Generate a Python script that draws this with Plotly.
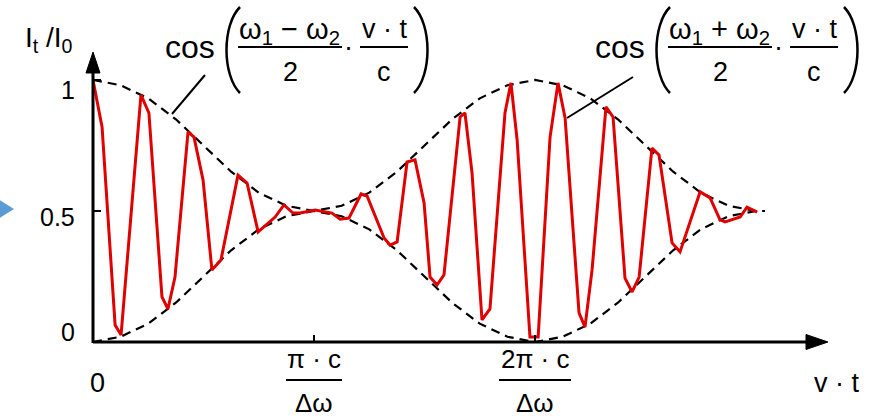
import plotly.graph_objects as go

# ---------------- data ----------------
# x in units of pi*c/Δω, y = I_t / I_0
wave_x = [0.000, 0.041, 0.100, 0.127, 0.217, 0.253, 0.312, 0.339, 0.371, 0.430,
          0.457, 0.498, 0.538, 0.579, 0.656, 0.697, 0.747, 0.824, 0.864, 0.905,
          0.937, 1.005, 1.081, 1.118, 1.158, 1.213, 1.240, 1.317, 1.344, 1.376,
          1.421, 1.457, 1.498, 1.525, 1.557, 1.588, 1.661, 1.683, 1.715, 1.760,
          1.796, 1.864, 1.891, 1.919, 1.977, 2.014, 2.068, 2.104, 2.136, 2.199,
          2.226, 2.258, 2.321, 2.353, 2.407, 2.439, 2.471, 2.529, 2.561, 2.620,
          2.656, 2.747, 2.792, 2.837, 2.860, 2.928, 2.959, 3.005]
wave_y = [1.000, 0.821, 0.065, 0.027, 0.943, 0.874, 0.172, 0.126, 0.248, 0.802,
          0.782, 0.618, 0.275, 0.313, 0.637, 0.607, 0.420, 0.477, 0.523, 0.492,
          0.492, 0.504, 0.492, 0.469, 0.473, 0.565, 0.557, 0.397, 0.370, 0.382,
          0.687, 0.695, 0.531, 0.248, 0.218, 0.256, 0.859, 0.874, 0.645, 0.084,
          0.126, 0.874, 0.989, 0.771, 0.019, 0.019, 0.782, 0.989, 0.855, 0.111,
          0.057, 0.275, 0.897, 0.859, 0.244, 0.191, 0.248, 0.740, 0.714, 0.378,
          0.344, 0.573, 0.550, 0.466, 0.458, 0.477, 0.515, 0.496]

env_x = [0.0, 0.125, 0.25, 0.375, 0.5, 0.625, 0.75, 0.875, 1.0,
         1.125, 1.25, 1.375, 1.5, 1.625, 1.75, 1.875, 2.0,
         2.125, 2.25, 2.375, 2.5, 2.625, 2.75, 2.875, 3.0, 3.04]
env_upper = [1.00, 0.98, 0.93, 0.85, 0.75, 0.65, 0.57, 0.52, 0.50,
             0.52, 0.57, 0.65, 0.75, 0.85, 0.93, 0.98, 1.00,
             0.98, 0.93, 0.85, 0.75, 0.65, 0.57, 0.52, 0.50, 0.50]
env_lower = [0.00, 0.02, 0.07, 0.15, 0.25, 0.35, 0.43, 0.48, 0.50,
             0.48, 0.43, 0.35, 0.25, 0.15, 0.07, 0.02, 0.00,
             0.02, 0.07, 0.15, 0.25, 0.35, 0.43, 0.48, 0.50, 0.50]

y_ticks = [0, 0.5, 1]
y_tick_labels = ["0", "0.5", "1"]
x_ticks = [1, 2]
x_tick_num = ["π · c", "2π · c"]
x_tick_den = ["Δω", "Δω"]

# ---------------- layout geometry ----------------
W, H = 877, 418
ML, MR, MT, MB = 93, 50, 53, 76
PW, PH = W - ML - MR, H - MT - MB
XMAX, YMAX = 3.321, 1.103
FONT = "Liberation Sans, Arial, sans-serif"


def px(x):
    return (x - ML) / PW


def py(y):
    return (H - MB - y) / PH


def path(points, close=False):
    s = "M " + " L ".join(f"{px(a):.5f},{py(b):.5f}" for a, b in points)
    return s + (" Z" if close else "")


fig = go.Figure()
for env in (env_upper, env_lower):
    fig.add_trace(go.Scatter(x=env_x, y=env, mode="lines",
                             line=dict(color="black", width=2.2, dash="9px,6px"),
                             hoverinfo="skip"))
fig.add_trace(go.Scatter(x=wave_x, y=wave_y, mode="lines",
                         line=dict(color="#e00000", width=3),
                         hoverinfo="skip"))

shapes = []
ann = []

# axes
shapes.append(dict(type="line", xref="paper", yref="paper", x0=px(93), y0=py(342),
                   x1=px(812), y1=py(342), line=dict(color="black", width=3)))
shapes.append(dict(type="line", xref="paper", yref="paper", x0=px(93), y0=py(343),
                   x1=px(93), y1=py(68), line=dict(color="black", width=3)))
shapes.append(dict(type="path", xref="paper", yref="paper",
                   path=path([(806, 334.5), (828, 342), (806, 349.5)], True),
                   fillcolor="black", line=dict(color="black", width=1)))
shapes.append(dict(type="path", xref="paper", yref="paper",
                   path=path([(86, 73), (93, 52), (100, 73)], True),
                   fillcolor="black", line=dict(color="black", width=1)))

# y ticks + labels (yshift: positive = up)
y_shift = {0: 10, 0.5: -6, 1: -10}
for v, lab in zip(y_ticks, y_tick_labels):
    shapes.append(dict(type="line", xref="paper", yref="y", x0=px(93), x1=px(101),
                       y0=v, y1=v, line=dict(color="black", width=2)))
    ann.append(dict(x=px(77), y=v, xref="paper", yref="y", text=lab, showarrow=False,
                    xanchor="right", yanchor="middle", yshift=y_shift[v],
                    font=dict(family=FONT, size=25, color="black")))

# x ticks + fraction labels
for t, num, den in zip(x_ticks, x_tick_num, x_tick_den):
    shapes.append(dict(type="line", xref="x", yref="paper", x0=t, x1=t,
                       y0=py(342), y1=py(335), line=dict(color="black", width=2)))
    ann.append(dict(x=t, y=py(359), xref="x", yref="paper", text=num, showarrow=False,
                    xanchor="center", yanchor="middle",
                    font=dict(family=FONT, size=26, color="black")))
    ann.append(dict(x=t, y=py(403), xref="x", yref="paper", text=den, showarrow=False,
                    xanchor="center", yanchor="middle",
                    font=dict(family=FONT, size=26, color="black")))
    half = 28 if len(num) < 6 else 36
    xc = ML + t / XMAX * PW
    shapes.append(dict(type="line", xref="paper", yref="paper", x0=px(xc - half),
                       x1=px(xc + half), y0=py(380), y1=py(380),
                       line=dict(color="black", width=2)))

ann.append(dict(x=px(97), y=py(383), xref="paper", yref="paper", text="0", showarrow=False,
                xanchor="center", yanchor="middle", font=dict(family=FONT, size=27, color="black")))
ann.append(dict(x=px(836), y=py(383), xref="paper", yref="paper", text="v · t", showarrow=False,
                xanchor="center", yanchor="middle", font=dict(family=FONT, size=27, color="black")))
ann.append(dict(x=px(49), y=py(40), xref="paper", yref="paper",
                text="I<sub>t</sub> /I<sub>0</sub>", showarrow=False,
                xanchor="center", yanchor="middle", font=dict(family=FONT, size=28, color="black")))


# formula annotations
def formula(dx, sign, leader):
    f27 = dict(family=FONT, size=27, color="black")
    ann.append(dict(x=px(190 + dx), y=py(47), xref="paper", yref="paper", text="cos",
                    showarrow=False, xanchor="center", yanchor="middle",
                    font=dict(family=FONT, size=32, color="black")))
    ann.append(dict(x=px(289 + dx), y=py(31), xref="paper", yref="paper",
                    text=f"ω<sub>1</sub> {sign} ω<sub>2</sub>",
                    showarrow=False, xanchor="center", yanchor="middle",
                    font=dict(family=FONT, size=29, color="black")))
    ann.append(dict(x=px(290 + dx), y=py(72), xref="paper", yref="paper", text="2",
                    showarrow=False, xanchor="center", yanchor="middle", font=f27))
    ann.append(dict(x=px(348 + dx), y=py(47), xref="paper", yref="paper", text="·",
                    showarrow=False, xanchor="center", yanchor="middle", font=f27))
    ann.append(dict(x=px(384 + dx), y=py(29), xref="paper", yref="paper", text="v · t",
                    showarrow=False, xanchor="center", yanchor="middle", font=f27))
    ann.append(dict(x=px(384 + dx), y=py(72), xref="paper", yref="paper", text="c",
                    showarrow=False, xanchor="center", yanchor="middle", font=f27))
    for a, b in [(238, 342), (360, 408)]:
        shapes.append(dict(type="line", xref="paper", yref="paper", x0=px(a + dx),
                           x1=px(b + dx), y0=py(47), y1=py(47),
                           line=dict(color="black", width=2)))
    lp = (f"M {px(240 + dx):.5f},{py(7):.5f} C {px(222 + dx):.5f},{py(25):.5f} "
          f"{px(222 + dx):.5f},{py(75):.5f} {px(240 + dx):.5f},{py(93):.5f}")
    rp = (f"M {px(414 + dx):.5f},{py(7):.5f} C {px(432 + dx):.5f},{py(25):.5f} "
          f"{px(432 + dx):.5f},{py(75):.5f} {px(414 + dx):.5f},{py(93):.5f}")
    for p in (lp, rp):
        shapes.append(dict(type="path", xref="paper", yref="paper", path=p,
                           line=dict(color="black", width=2.5)))
    shapes.append(dict(type="path", xref="paper", yref="paper", path=path(leader),
                       line=dict(color="black", width=2)))


formula(0, "−", [(205, 75), (172, 114)])
formula(430, "+", [(633, 77), (567, 118)])

# blue marker at the left edge
shapes.append(dict(type="path", xref="paper", yref="paper",
                   path=path([(-2, 199), (14, 209), (-2, 219)], True),
                   fillcolor="#5B9BD5", line=dict(color="#5B9BD5", width=0)))

fig.update_layout(
    width=W, height=H,
    margin=dict(l=ML, r=MR, t=MT, b=MB),
    paper_bgcolor="white", plot_bgcolor="white",
    showlegend=False,
    xaxis=dict(range=[0, XMAX], visible=False, fixedrange=True),
    yaxis=dict(range=[0, YMAX], visible=False, fixedrange=True),
    shapes=shapes, annotations=ann,
)

fig.write_html("out.html")
